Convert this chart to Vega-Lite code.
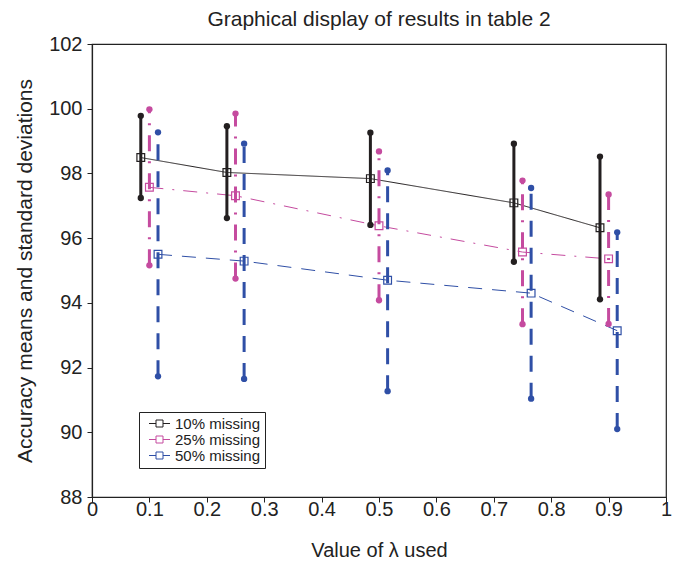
{
  "$schema": "https://vega.github.io/schema/vega-lite/v6.json",
  "width": 574,
  "height": 453,
  "autosize": {"type": "none"},
  "padding": {"left": 92, "top": 44, "right": 17, "bottom": 65},
  "background": "white",
  "title": {"text": "Graphical display of results in table 2", "fontSize": 21, "font": "Liberation Sans", "fontWeight": "normal", "color": "#222", "anchor": "middle", "frame": "group", "offset": 4},
  "config": {
    "view": {"stroke": "#222", "strokeWidth": 1.2},
    "axis": {"font": "Liberation Sans", "labelFont": "Liberation Sans", "titleFont": "Liberation Sans", "labelFontSize": 20, "titleFontSize": 20, "titleFontWeight": "normal", "labelColor": "#222", "titleColor": "#222", "domainColor": "#222", "tickColor": "#222", "grid": false, "tickSize": 5, "domainWidth": 1.2, "tickWidth": 1}
  },
  "data": {"values": [
    {"s": "10% missing", "x": 0.085, "m": 98.49, "lo": 97.24, "hi": 99.78},
    {"s": "10% missing", "x": 0.235, "m": 98.03, "lo": 96.62, "hi": 99.46},
    {"s": "10% missing", "x": 0.485, "m": 97.84, "lo": 96.41, "hi": 99.26},
    {"s": "10% missing", "x": 0.735, "m": 97.09, "lo": 95.27, "hi": 98.92},
    {"s": "10% missing", "x": 0.885, "m": 96.32, "lo": 94.11, "hi": 98.52},
    {"s": "25% missing", "x": 0.1, "m": 97.57, "lo": 95.16, "hi": 99.98},
    {"s": "25% missing", "x": 0.25, "m": 97.31, "lo": 94.75, "hi": 99.85},
    {"s": "25% missing", "x": 0.5, "m": 96.38, "lo": 94.08, "hi": 98.68},
    {"s": "25% missing", "x": 0.75, "m": 95.57, "lo": 93.34, "hi": 97.78},
    {"s": "25% missing", "x": 0.9, "m": 95.36, "lo": 93.35, "hi": 97.35},
    {"s": "50% missing", "x": 0.115, "m": 95.50, "lo": 91.73, "hi": 99.27},
    {"s": "50% missing", "x": 0.265, "m": 95.29, "lo": 91.65, "hi": 98.92},
    {"s": "50% missing", "x": 0.515, "m": 94.70, "lo": 91.27, "hi": 98.09},
    {"s": "50% missing", "x": 0.765, "m": 94.30, "lo": 91.04, "hi": 97.55},
    {"s": "50% missing", "x": 0.915, "m": 93.14, "lo": 90.10, "hi": 96.18}
  ]},
  "encoding": {
    "x": {"field": "x", "type": "quantitative", "scale": {"domain": [0, 1], "nice": false, "zero": false},
          "axis": {"title": "Value of λ used", "values": [0, 0.1, 0.2, 0.3, 0.4, 0.5, 0.6, 0.7, 0.8, 0.9, 1], "format": "~g", "labelPadding": -3, "titlePadding": 21, "labelFlush": false,
                   "encode": {"ticks": {"update": {"y2": {"value": -5}}}}}}
  },
  "layer": [
    {
      "mark": {"type": "line", "strokeWidth": 1},
      "encoding": {
        "y": {"field": "m", "type": "quantitative", "scale": {"domain": [88, 102], "nice": false, "zero": false},
              "axis": {"title": "Accuracy means and standard deviations", "titleFontSize": 21, "values": [88, 90, 92, 94, 96, 98, 100, 102], "format": "d", "labelPadding": 5, "titlePadding": 13, "labelFlush": false,
                       "encode": {"ticks": {"update": {"x2": {"value": 5}}}}}},
        "color": {"field": "s", "type": "nominal", "scale": {"domain": ["10% missing", "25% missing", "50% missing"], "range": ["#231f20", "#c54b9f", "#2f4fa6"]},
                  "legend": {"title": null, "orient": "none", "legendX": 47, "legendY": 368, "direction": "vertical", "strokeColor": "#222", "fillColor": "white", "padding": 4, "rowPadding": -4.5, "labelFont": "Liberation Sans", "labelFontSize": 15, "labelColor": "#222", "symbolType": "M-2.1,0H-0.7M0.7,0H2.1M-0.7,-0.7H0.7M0.7,-0.7V0.7M0.7,0.7H-0.7M-0.7,0.7V-0.7", "symbolSize": 100, "symbolOffset": 9, "labelOffset": 8, "symbolStrokeWidth": 1, "symbolFillColor": "transparent"}},
        "strokeDash": {"field": "s", "type": "nominal", "scale": {"domain": ["10% missing", "25% missing", "50% missing"], "range": [[1, 0], [14, 9, 2, 9], [14, 10]]}}
      }
    },
    {
      "transform": [{"filter": "datum.s == '10% missing'"}],
      "mark": {"type": "rule", "strokeWidth": 3},
      "encoding": {"y": {"field": "lo", "type": "quantitative"}, "y2": {"field": "hi"}, "stroke": {"field": "s", "type": "nominal", "legend": null, "scale": {"domain": ["10% missing", "25% missing", "50% missing"], "range": ["#231f20", "#c54b9f", "#2f4fa6"]}}}
    },
    {
      "transform": [{"filter": "datum.s == '25% missing'"}],
      "mark": {"type": "rule", "strokeWidth": 3, "strokeDash": [16, 10, 2, 10]},
      "encoding": {"y": {"field": "lo", "type": "quantitative"}, "y2": {"field": "hi"}, "stroke": {"field": "s", "type": "nominal", "legend": null}}
    },
    {
      "transform": [{"filter": "datum.s == '50% missing'"}],
      "mark": {"type": "rule", "strokeWidth": 3, "strokeDash": [16, 11]},
      "encoding": {"y": {"field": "lo", "type": "quantitative"}, "y2": {"field": "hi"}, "stroke": {"field": "s", "type": "nominal", "legend": null}}
    },
    {
      "mark": {"type": "point", "shape": "circle", "filled": true, "size": 40, "opacity": 1},
      "encoding": {"y": {"field": "lo", "type": "quantitative"}, "fill": {"field": "s", "type": "nominal", "legend": null, "scale": {"domain": ["10% missing", "25% missing", "50% missing"], "range": ["#231f20", "#c54b9f", "#2f4fa6"]}}}
    },
    {
      "mark": {"type": "point", "shape": "circle", "filled": true, "size": 40, "opacity": 1},
      "encoding": {"y": {"field": "hi", "type": "quantitative"}, "fill": {"field": "s", "type": "nominal", "legend": null}}
    },
    {
      "mark": {"type": "point", "shape": "square", "filled": false, "size": 60, "strokeWidth": 1.2, "opacity": 1},
      "encoding": {"y": {"field": "m", "type": "quantitative"}, "stroke": {"field": "s", "type": "nominal", "legend": null}}
    }
  ]
}
